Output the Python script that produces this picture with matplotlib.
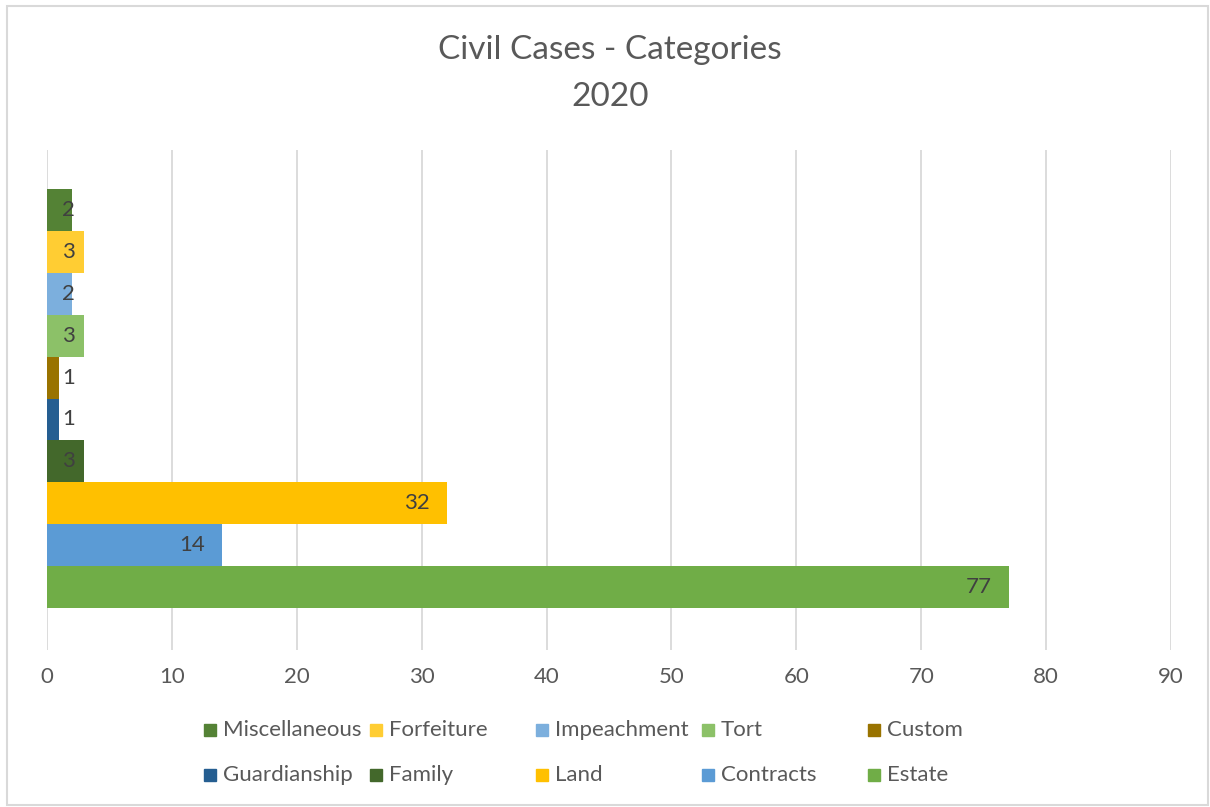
import matplotlib
matplotlib.use("Agg")
import matplotlib.pyplot as plt
from matplotlib.patches import Rectangle

plt.rcParams['font.family'] = ['Lato', 'DejaVu Sans']

# --- data (bottom to top as drawn) ---
series = ["Estate", "Contracts", "Land", "Family", "Guardianship",
          "Custom", "Tort", "Impeachment", "Forfeiture", "Miscellaneous"]
values = [77, 14, 32, 3, 1, 1, 3, 2, 3, 2]
colors = ["#70ad47", "#5b9bd5", "#ffc000", "#43682b", "#255e91",
          "#997300", "#8cc168", "#7cafdd", "#ffcd33", "#548235"]
x_ticks = [0, 10, 20, 30, 40, 50, 60, 70, 80, 90]

# legend order (row by row, as in the chart)
legend_order = ["Miscellaneous", "Forfeiture", "Impeachment", "Tort", "Custom",
                "Guardianship", "Family", "Land", "Contracts", "Estate"]

text_col = "#595959"
label_col = "#404040"
grid_col = "#d9d9d9"

W, H = 1210, 807
fig = plt.figure(figsize=(W / 100, H / 100), dpi=100)
ax = fig.add_axes([47 / W, 1 - 650 / H, (1171 - 47) / W, 500 / H])

for i, (v, c) in enumerate(zip(values, colors)):
    ax.barh(i, v, height=1.0, color=c, zorder=2)
    if v >= 5:
        ax.text(v - 1.35, i, str(v), ha="right", va="center",
                fontsize=16, color=label_col, zorder=3)
    else:
        ax.text(1.2, i, str(v), ha="left", va="center",
                fontsize=16, color=label_col, zorder=3)

ax.set_xlim(0, 90)
ax.set_ylim(-1.5, 10.43)
ax.set_xticks(x_ticks)
ax.set_xticklabels([str(t) for t in x_ticks], fontsize=16, color=text_col)
ax.tick_params(axis="x", length=0, pad=12)
ax.set_yticks([])
for t in x_ticks:
    ax.axvline(t, color=grid_col, lw=1.3, zorder=1)
for s in ax.spines.values():
    s.set_visible(False)

# title
fig.text(610 / W, 1 - 50 / H, "Civil Cases - Categories", ha="center", va="center",
         fontsize=24, color=text_col)
fig.text(610 / W, 1 - 97 / H, "2020", ha="center", va="center",
         fontsize=24, color=text_col)

# legend, 2 rows x 5 columns
cmap = dict(zip(series, colors))
for k, name in enumerate(legend_order):
    row, col = divmod(k, 5)
    x0 = 204 + col * 166
    y0 = 730 + row * 45
    fig.patches.append(Rectangle((x0 / W, 1 - (y0 + 6) / H), 12 / W, 12 / H,
                                 transform=fig.transFigure, color=cmap[name]))
    fig.text((x0 + 19) / W, 1 - y0 / H, name, ha="left", va="center",
             fontsize=16, color=text_col)

# chart border
fig.patches.append(Rectangle((7 / W, 2 / H), (W - 9) / W, (H - 8) / H,
                             transform=fig.transFigure, fill=False,
                             edgecolor=grid_col, lw=1.5))

fig.savefig("out.png", dpi=100)
